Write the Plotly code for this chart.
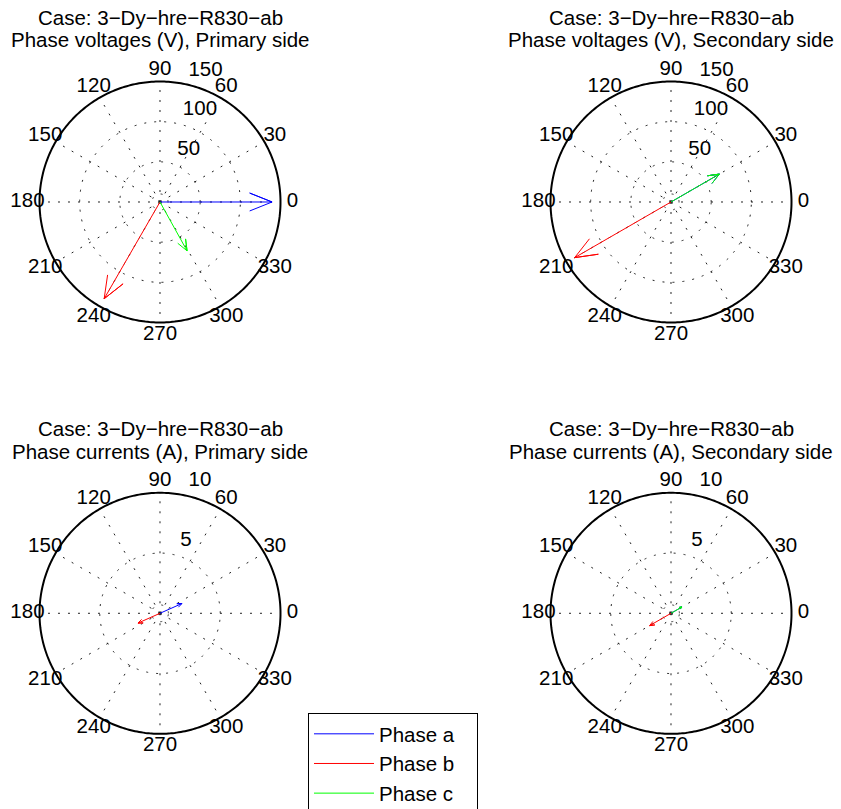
import numpy as np
import plotly.graph_objects as go

# ---------------- data ----------------
phases = ["Phase a", "Phase b", "Phase c"]
phase_colors = ["#0000ff", "#ff0000", "#00ff00"]

case_title = "Case: 3\u2212Dy\u2212hre\u2212R830\u2212ab"
subtitles = [
    "Phase voltages (V), Primary side",
    "Phase voltages (V), Secondary side",
    "Phase currents (A), Primary side",
    "Phase currents (A), Secondary side",
]

# phasor magnitudes and angles (deg), order: a, b, c
v_pri_mag = [139.5, 139.0, 69.5]
v_pri_ang = [0, 240, 299]
v_sec_mag = [69.5, 138.5, 69.5]
v_sec_ang = [30, 210, 30]
i_pri_mag = [2.0, 2.0, 0.0]
i_pri_ang = [24, 204, 0]
i_sec_mag = [1.05, 2.05, 1.05]
i_sec_ang = [30, 210, 30]

angle_ticks = list(range(0, 360, 30))
v_rticks = [50, 100, 150]
i_rticks = [5, 10]
v_inner = 10
i_inner = 0.7

panels = [
    dict(mag=v_pri_mag, ang=v_pri_ang, rticks=v_rticks, inner=v_inner),
    dict(mag=v_sec_mag, ang=v_sec_ang, rticks=v_rticks, inner=v_inner),
    dict(mag=i_pri_mag, ang=i_pri_ang, rticks=i_rticks, inner=i_inner),
    dict(mag=i_sec_mag, ang=i_sec_ang, rticks=i_rticks, inner=i_inner),
]

# ---------------- layout geometry (window pixels) ----------------
W, H = 841, 809
R_PX = 120.5                 # pixel radius of the outer circle
EXT = 1.13                   # radial range extension (room for labels)
centers = [(160, 202), (671, 202), (160, 613.3), (671, 613.3)]
title_rows = [(17, 39.5), (17, 39.5), (428, 451), (428, 451)]

FONT = "Liberation Sans, Arial, Helvetica, sans-serif"
FS = 20.5
DOT = "2px,8px"
GRID = "#222"

fig = go.Figure()
layout_polars = {}
annotations = []
circ = np.linspace(0, 360, 361)


def compass(mag, ang):
    rb = mag * np.hypot(0.8, 0.08)
    d = np.degrees(np.arctan2(0.08, 0.8))
    return [0, mag, rb, mag, rb], [ang, ang, ang + d, ang, ang - d]


def px(x):
    return x / W


def py(y):
    return 1 - y / H


for k, p in enumerate(panels):
    pid = "polar" if k == 0 else f"polar{k+1}"
    cx, cy = centers[k]
    rmax = p["rticks"][-1]
    rpx = R_PX * EXT
    layout_polars[pid] = dict(
        domain=dict(x=[px(cx - rpx), px(cx + rpx)], y=[py(cy + rpx), py(cy - rpx)]),
        bgcolor="rgba(0,0,0,0)",
        radialaxis=dict(range=[0, rmax * EXT], visible=False, showgrid=False),
        angularaxis=dict(visible=False, showgrid=False, showline=False,
                         direction="counterclockwise", rotation=0),
    )
    # dotted spokes
    sr, st = [], []
    for a in angle_ticks:
        sr += [0, rmax, None]
        st += [a, a, None]
    fig.add_trace(go.Scatterpolar(r=sr, theta=st, mode="lines",
                                  line=dict(color=GRID, width=1, dash=DOT),
                                  showlegend=False, hoverinfo="skip", subplot=pid))
    # dotted circles
    for rv in [p["inner"]] + p["rticks"][:-1]:
        fig.add_trace(go.Scatterpolar(r=[rv] * len(circ), theta=circ, mode="lines",
                                      line=dict(color=GRID, width=1, dash=DOT),
                                      showlegend=False, hoverinfo="skip", subplot=pid))
    # outer solid circle
    fig.add_trace(go.Scatterpolar(r=[rmax] * len(circ), theta=circ, mode="lines",
                                  line=dict(color="black", width=2),
                                  showlegend=False, hoverinfo="skip", subplot=pid))
    # angular labels at 1.1 * rmax
    fig.add_trace(go.Scatterpolar(
        r=[1.1 * rmax] * len(angle_ticks), theta=angle_ticks,
        text=[str(a) for a in angle_ticks], mode="text",
        textfont=dict(family=FONT, size=FS, color="black"),
        cliponaxis=False, showlegend=False, hoverinfo="skip", subplot=pid))
    # radial labels at 82 deg
    rinc = p["rticks"][1] - p["rticks"][0]
    fig.add_trace(go.Scatterpolar(
        r=[t + rinc / 20 for t in p["rticks"]], theta=[82] * len(p["rticks"]),
        text=["\u00a0\u00a0" + str(t) for t in p["rticks"]], mode="text",
        textposition="top right",
        textfont=dict(family=FONT, size=FS, color="black"),
        cliponaxis=False, showlegend=False, hoverinfo="skip", subplot=pid))
    # phasor arrows
    for j in range(3):
        rr, tt = compass(p["mag"][j], p["ang"][j])
        fig.add_trace(go.Scatterpolar(
            r=rr, theta=tt, mode="lines", name=phases[j] + "\u00a0\u00a0\u00a0",
            line=dict(color=phase_colors[j], width=1),
            showlegend=(k == 0), hoverinfo="skip", cliponaxis=False, subplot=pid))
    # titles
    y1, y2 = title_rows[k]
    for txt, yy in ((case_title, y1), (subtitles[k], y2)):
        annotations.append(dict(text=txt, x=px(cx), y=py(yy), xref="paper", yref="paper",
                                xanchor="center", yanchor="middle", showarrow=False,
                                font=dict(family=FONT, size=FS, color="black")))

fig.update_layout(
    width=W, height=H,
    margin=dict(l=0, r=0, t=0, b=0, autoexpand=False),
    paper_bgcolor="white", plot_bgcolor="white",
    font=dict(family=FONT, size=FS, color="black"),
    annotations=annotations,
    legend=dict(x=px(308), y=py(713), xanchor="left", yanchor="top",
                bordercolor="black", borderwidth=1, bgcolor="white",
                font=dict(family=FONT, size=FS, color="black"),
                itemwidth=60, tracegroupgap=0),
    **layout_polars,
)

fig.write_html("out.html",
               config={"displayModeBar": False},
               post_script="document.body.style.margin='0';document.body.style.overflow='hidden';")
